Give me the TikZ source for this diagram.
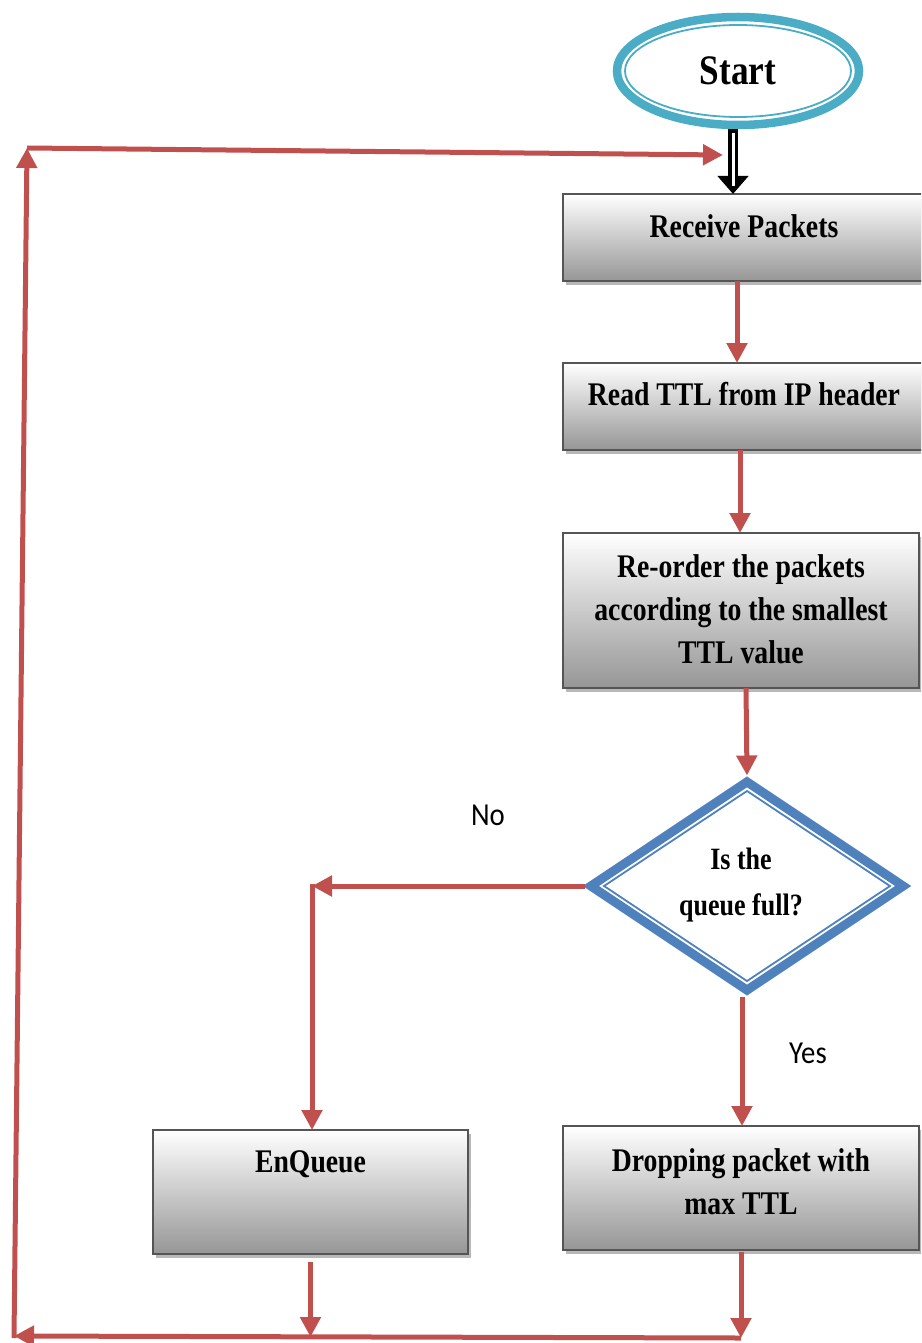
\documentclass[tikz,border=0pt]{standalone}
\usepackage{fontspec}
\newfontfamily\boxfont[FakeStretch=0.84]{Liberation Serif}
\newfontfamily\labfont[FakeStretch=0.9]{Carlito}
\usetikzlibrary{arrows.meta,shapes.geometric,shadows,calc}
\definecolor{startteal}{RGB}{75,172,198}
\definecolor{diablue}{RGB}{79,129,189}
\definecolor{flowred}{RGB}{192,80,77}
\definecolor{boxedge}{RGB}{85,85,85}
\definecolor{boxgray}{RGB}{150,150,150}
\begin{document}
\begin{tikzpicture}[x=1pt,y=-1pt,
  flowbox/.style={rectangle, draw=boxedge, line width=2pt, top color=white,
    bottom color=boxgray, inner sep=0pt, outer sep=0pt,
    general shadow={fill=black!28, shadow xshift=3pt, shadow yshift=-4pt}},
  boxtext/.style={font=\boxfont\bfseries\fontsize{33}{43}\selectfont,
    align=center, inner sep=0pt, anchor=north},
  flow/.style={draw=flowred, line width=5pt, -{Triangle[length=20pt,width=20pt]}},
  answer/.style={font=\labfont\fontsize{32}{36}\selectfont, inner sep=0pt}
]
\useasboundingbox (0,0) rectangle (921,1343);
\clip (0,0) rectangle (921,1343);

% terminal
\node[ellipse, draw=startteal, line width=8.5pt, minimum width=242pt,
  minimum height=108pt, inner sep=0pt,
  font=\boxfont\bfseries\fontsize{42}{48}\selectfont] (start) at (738,71) {Start};
\draw[startteal, line width=1.8pt] (start.center) ellipse [x radius=113, y radius=46];

% process boxes
\node[flowbox, minimum width=362pt, minimum height=87pt] (recv) at (744,237.5) {};
\node[boxtext] (recvT) at ([yshift=-20pt]recv.north) {Receive Packets};

\node[flowbox, minimum width=362pt, minimum height=87pt] (read) at (744,406.5) {};
\node[boxtext] (readT) at ([yshift=-19pt]read.north) {Read TTL from IP header};

\node[flowbox, minimum width=356pt, minimum height=155pt] (reorder) at (741,610.5) {};
\node[boxtext] (reorderT) at ([yshift=-21pt]reorder.north)
  {Re-order the packets\\according to the smallest\\TTL value};

\node[flowbox, minimum width=315pt, minimum height=124pt] (enq) at (310.5,1192) {};
\node[boxtext] (enqT) at ([yshift=-20pt]enq.north) {EnQueue};

\node[flowbox, minimum width=356pt, minimum height=124pt] (drop) at (741,1188) {};
\node[boxtext] (dropT) at ([yshift=-22pt]drop.north) {Dropping packet with\\max TTL};

% decision
\node[diamond, draw=diablue, line width=9pt, line join=miter, minimum width=316pt,
  minimum height=212pt, inner sep=0pt] (dia) at (747,886) {};
\draw[diablue, line width=1.8pt, line join=miter]
  ($(dia.center)+(0,-95)$) -- ($(dia.center)+(143,0)$) --
  ($(dia.center)+(0,95)$) -- ($(dia.center)+(-143,0)$) -- cycle;
\node[font=\boxfont\bfseries\fontsize{31}{46}\selectfont, align=center, inner sep=0pt]
  (diaT) at (741,885) {Is the\\queue full?};

\node[answer] (noL) at (488,815) {No};
\node[answer] (yesL) at (808,1053) {Yes};

% routing points
\coordinate (loopTL) at (27,148);
\coordinate (loopBL) at (14,1336);
\coordinate (loopIn) at (723,155);
\coordinate (noCorner) at (312,886);
\coordinate (enqOut) at (310.5,1337);
\coordinate (dropOut) at (741,1338);

% hollow start arrow
\coordinate (hs) at ($(start.south)+(-5,0)$);
\coordinate (he) at (hs |- recv.north);
\draw[line width=10pt, -{Triangle[length=18pt,width=30pt]}] (hs) -- (he);
\draw[white, line width=3pt] ($(hs)+(0,4)$) -- ($(he)+(0,-8)$);

% flow connectors
\draw[flow] ([xshift=-7pt]recv.south) -- ([xshift=-7pt]read.north);
\draw[flow] ([xshift=-4pt]read.south) -- ([xshift=-1pt]reorder.north);
\draw[flow] ([xshift=5pt]reorder.south) -- (dia.north);
\draw[flow] (dia.west) -- (noCorner);
\draw[flow] ($(noCorner)+(0,-2)$) -- (noCorner |- enq.north);
\draw[flow] ([xshift=-5pt]dia.south) -- ([xshift=1pt]drop.north);
\draw[flow] ([yshift=-8pt]enq.south) -- (enqOut);
\draw[flow] ([yshift=-2pt]drop.south) -- (dropOut);
\draw[flow] (dropOut) -- (loopBL);
\draw[flow] ($(loopBL)+(0,2)$) -- (loopTL);
\draw[flow] (loopTL) -- (loopIn);
\end{tikzpicture}
\end{document}
